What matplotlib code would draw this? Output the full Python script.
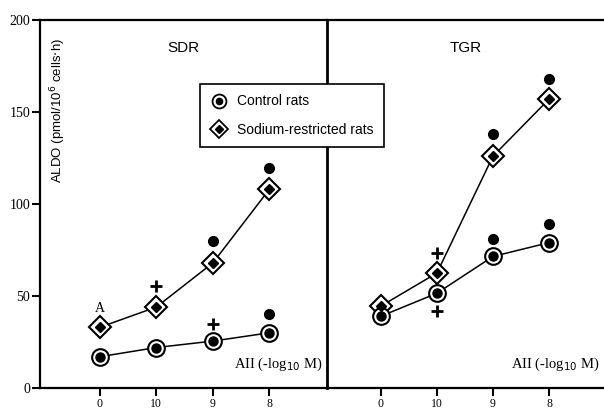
import numpy as np
import matplotlib
matplotlib.use("Agg")
import matplotlib.pyplot as plt
from matplotlib.lines import Line2D

# dati
doses = ["0", "10", "9", "8"]
sdr_control = [17, 22, 25.5, 30]
sdr_sodium = [33, 44, 68, 108]
tgr_control = [39, 51.5, 71.5, 79]
tgr_sodium = [44.5, 62.5, 126, 157]

# segni di significativita' (posizione x, valore y)
sdr_dots = [(2, 80), (3, 119.5), (3, 40)]
sdr_plus = [(1, 55.5), (2, 35)]
tgr_dots = [(2, 138), (3, 168), (2, 81), (3, 89)]
tgr_plus = [(1, 73.5), (1, 42)]

W, H = 604, 411
fig = plt.figure(figsize=(W / 100, H / 100), dpi=100)

def px_axes(x0, x1, y0, y1):
    return fig.add_axes([x0 / W, 1 - y1 / H, (x1 - x0) / W, (y1 - y0) / H])

ax1 = px_axes(40, 327, 20, 388)
ax2 = px_axes(327, 604, 20, 388)

serif = "Liberation Serif"
sans = "Liberation Sans"

def draw_series(ax, y, marker, outer, inner):
    x = np.arange(len(y))
    ax.plot(x, y, color="black", lw=1.1, zorder=2)
    ax.plot(x, y, ls="none", marker=marker, ms=outer, mfc="white",
            mec="black", mew=1.5, zorder=3)
    ax.plot(x, y, ls="none", marker=marker, ms=inner, mfc="black",
            mec="black", zorder=4)

for ax, ctrl, sod, dots, plus, name, xl in [
        (ax1, sdr_control, sdr_sodium, sdr_dots, sdr_plus, "SDR", (-1.06, 4.02)),
        (ax2, tgr_control, tgr_sodium, tgr_dots, tgr_plus, "TGR", (-0.96, 3.98))]:
    draw_series(ax, sod, "D", 11, 5.5)
    draw_series(ax, ctrl, "o", 12, 6.5)
    ax.plot([p[0] for p in dots], [p[1] for p in dots], ls="none",
            marker="o", ms=7, color="black")
    ax.plot([p[0] for p in plus], [p[1] for p in plus], ls="none",
            marker="+", ms=8, mew=2, color="black")
    ax.set_xlim(*xl)
    ax.set_ylim(0, 200)
    ax.set_xticks(range(len(doses)))
    ax.set_xticklabels(doses, fontfamily=serif, fontsize=8.5)
    ax.tick_params(axis="x", direction="out", length=6, width=1.5, pad=1)
    ax.text(0.5, 0.925, name, transform=ax.transAxes,
            ha="center", va="center", fontfamily=sans, fontsize=11)
    ax.text(0.985, 0.04, "AII (-log$_{10}$ M)", transform=ax.transAxes,
            ha="right", va="bottom", fontfamily=serif, fontsize=10.5)
    for s in ["top", "bottom", "left"]:
        ax.spines[s].set_linewidth(1.6)
    ax.spines["right"].set_visible(False)

ax1.text(0, 43, "A", ha="center", va="center", fontfamily=serif, fontsize=10)

ax1.set_yticks([0, 50, 100, 150, 200])
ax1.set_yticklabels(["0", "50", "100", "150", "200"], fontfamily=serif, fontsize=10)
ax1.tick_params(axis="y", direction="out", length=6, width=1.5, pad=1)
ax1.text(0.063, 0.755, "ALDO (pmol/10$^6$ cells$\\cdot$h)", transform=ax1.transAxes,
         rotation=90, ha="center", va="center", fontfamily=sans, fontsize=9.5)
ax2.tick_params(axis="y", left=False, labelleft=False)
ax2.spines["left"].set_linewidth(2)

h_ctrl = (Line2D([], [], ls="none", marker="o", ms=10, mfc="white", mec="black", mew=1.3),
          Line2D([], [], ls="none", marker="o", ms=4.5, color="black"))
h_sod = (Line2D([], [], ls="none", marker="D", ms=9, mfc="white", mec="black", mew=1.3),
         Line2D([], [], ls="none", marker="D", ms=4.5, color="black"))
leg = fig.legend([h_ctrl, h_sod], ["Control rats", "Sodium-restricted rats"],
                 loc="upper left", bbox_to_anchor=(200 / W, 1 - 84 / H),
                 borderaxespad=0, frameon=True, fancybox=False, framealpha=1,
                 edgecolor="black", prop={"family": sans, "size": 10},
                 handlelength=1.2, handletextpad=0.7, borderpad=0.75,
                 labelspacing=1.05)
leg.get_frame().set_linewidth(1.2)

fig.savefig("out.png", dpi=100)
